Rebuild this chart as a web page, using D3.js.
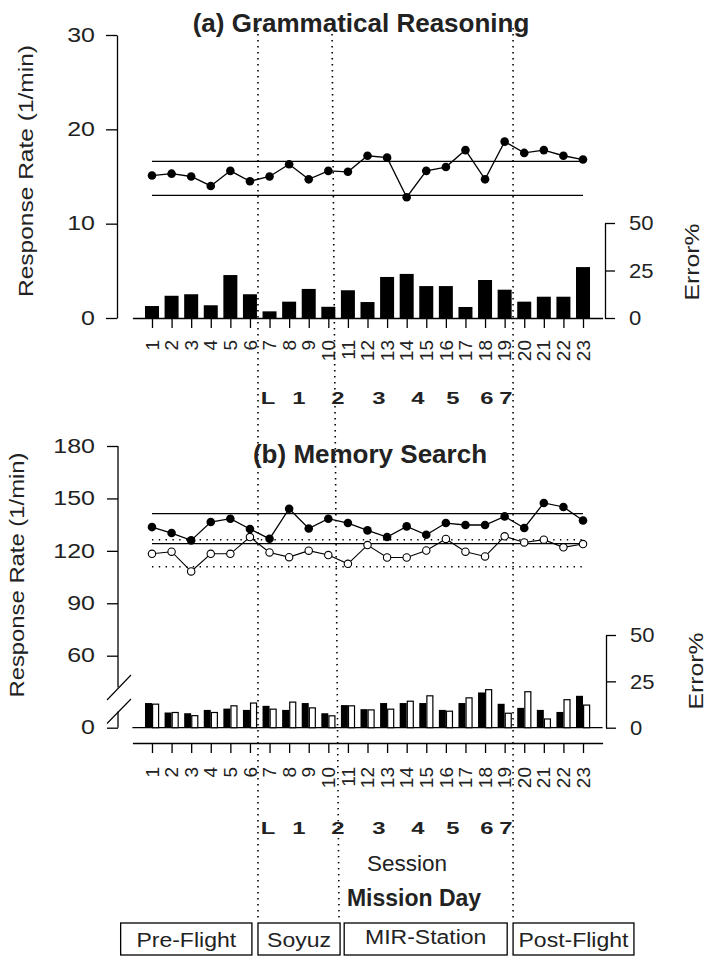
<!DOCTYPE html>
<html><head><meta charset="utf-8">
<script src="https://cdn.jsdelivr.net/npm/d3@7"></script>
<style>body{margin:0;background:#fff}svg{display:block}text{font-family:"Liberation Sans",Arial,sans-serif;fill:#222}</style>
</head><body><svg id="c" width="708" height="956"></svg>
<script>
// ---------- data ----------
const sessions = [1,2,3,4,5,6,7,8,9,10,11,12,13,14,15,16,17,18,19,20,21,22,23];
// (a) Grammatical Reasoning
const grRate  = [15.1,15.3,15.0,14.0,15.6,14.5,15.0,16.3,14.7,15.6,15.5,17.2,17.0,12.8,15.6,16.0,17.8,14.7,18.7,17.5,17.8,17.2,16.8];
const grError = [6.3,11.7,12.5,6.7,22.6,12.5,3.5,8.6,15.3,5.9,14.6,8.4,21.6,23.2,16.8,16.8,5.8,20.0,14.9,8.6,11.2,11.2,26.8];
const grLimits = [16.6, 13.0];
const grRateTicks = [0,10,20,30];
// (b) Memory Search
const msRateFilled = [133.6,130.2,126.0,136.5,138.4,132.5,126.9,144.1,132.8,138.4,135.9,131.7,127.9,134.0,129.2,135.9,134.8,134.8,139.7,133.1,147.4,145.1,137.4];
const msRateOpen   = [118.3,119.5,108.2,118.3,118.3,127.9,119.1,116.4,120.1,117.6,112.6,123.3,116.2,116.2,120.2,126.8,119.5,116.8,128.3,124.8,126.4,122.0,123.9];
const msErrFilled  = [13.3,8.2,7.8,9.6,10.3,9.6,11.8,9.6,13.3,7.8,12.2,10.0,13.3,13.3,13.3,9.6,13.3,19.0,12.9,10.7,9.6,8.5,17.2];
const msErrOpen    = [12.7,8.2,6.5,8.2,11.8,13.3,10.0,13.8,10.7,6.4,11.8,9.6,10.0,14.3,17.2,8.9,16.1,20.5,7.8,19.4,4.7,15.1,12.2];
const msLimitsSolid  = [141.3, 124.1];
const msLimitsDotted = [126.4, 110.9];
const msRateTicks = [60,90,120,150,180];
const errorTicks = [0,25,50];
// mission-day labels (position in session units)
const dayLabels = ["L","1","2","3","4","5","6","7"];
const dayPos    = [6.92,8.5,10.49,12.58,14.57,16.36,18.1,19.06];
// phase dividers (session units, top / bottom end)
const dividerTop    = [6.41,10.19,19.43];
const dividerBottom = [6.41,10.55,19.43];
// phase boxes
const phases    = ["Pre-Flight","Soyuz","MIR-Station","Post-Flight"];
const phaseFrom = [-0.6,6.41,10.81,19.43];
const phaseTo   = [6.1,10.6,19.13,25.6];

// ---------- drawing ----------
const svg = d3.select("#c");
const FONT = '"Liberation Sans",Arial,sans-serif';
function stretch(sel,k){sel.each(function(){const l=this.getComputedTextLength();d3.select(this).attr("textLength",l*k).attr("lengthAdjust","spacingAndGlyphs");});}
const SW = 1.3;

const x = d3.scaleLinear().domain([0,24]).range([132.4,602.6]);

// dividers (drawn first)
svg.append("g").selectAll("line").data(dividerTop).join("line")
  .attr("x1",d=>x(d)).attr("x2",(d,i)=>x(dividerBottom[i]))
  .attr("y1",28).attr("y2",922)
  .attr("stroke","#000").attr("stroke-width",1.6).attr("stroke-dasharray","1.4,4.6");

function styleAxis(g,fs,k){
  g.selectAll("path,line").attr("stroke","#000").attr("stroke-width",SW);
  g.selectAll("text").attr("font-size",fs).attr("font-family",FONT).attr("fill","#222").call(stretch,k);
}

// ===== Panel (a) =====
const yA = d3.scaleLinear().domain([0,30]).range([318,35]);
const eA = d3.scaleLinear().domain([0,50]).range([318,223]);

svg.append("g").attr("transform","translate(117,0)")
  .call(d3.axisLeft(yA).tickValues(grRateTicks).tickSize(11).tickSizeOuter(0).tickPadding(11))
  .call(g=>styleAxis(g,19.5,1.28));
svg.append("g").attr("transform","translate(605,0)")
  .call(d3.axisRight(eA).tickValues(errorTicks).tickSize(10).tickSizeOuter(0).tickPadding(14))
  .call(g=>styleAxis(g,21,1.05));
svg.append("g").attr("transform","translate(0,318)")
  .call(d3.axisBottom(x).tickValues(sessions).tickSize(10).tickSizeOuter(0).tickFormat(""))
  .call(g=>styleAxis(g,19,1));

// bars
svg.append("g").selectAll("rect").data(grError).join("rect")
  .attr("x",(d,i)=>x(sessions[i])-7).attr("width",14)
  .attr("y",d=>eA(d)).attr("height",d=>eA(0)-eA(d)).attr("fill","#000");
// limits
svg.append("g").selectAll("line").data(grLimits).join("line")
  .attr("x1",x(sessions[0])).attr("x2",x(sessions[sessions.length-1]))
  .attr("y1",d=>yA(d)).attr("y2",d=>yA(d)).attr("stroke","#000").attr("stroke-width",SW);
// line + points
svg.append("path").datum(grRate)
  .attr("d",d3.line().x((d,i)=>x(sessions[i])).y(d=>yA(d)))
  .attr("fill","none").attr("stroke","#000").attr("stroke-width",SW);
svg.append("g").selectAll("circle").data(grRate).join("circle")
  .attr("cx",(d,i)=>x(sessions[i])).attr("cy",d=>yA(d)).attr("r",4.3).attr("fill","#000");

// ===== Panel (b) =====
const yB = d3.scaleLinear().domain([60,180]).range([655.7,446]);
const eB = d3.scaleLinear().domain([0,50]).range([727.7,635]);
const breakTop = 687.5, breakBottom = 711.5;

svg.append("g").attr("transform","translate(118,0)")
  .call(d3.axisLeft(yB).tickValues(msRateTicks).tickSize(11).tickSizeOuter(0).tickPadding(12))
  .call(g=>g.select(".domain").remove())
  .call(g=>styleAxis(g,19.5,1.28));
svg.append("g").attr("transform","translate(118,0)")
  .call(d3.axisLeft(eB).tickValues([0]).tickSize(11).tickSizeOuter(0).tickPadding(12))
  .call(g=>g.select(".domain").remove())
  .call(g=>styleAxis(g,19.5,1.28));
// broken axis line
svg.append("line").attr("x1",118).attr("x2",118).attr("y1",yB(180)).attr("y2",breakTop).attr("stroke","#000").attr("stroke-width",SW);
svg.append("line").attr("x1",118).attr("x2",118).attr("y1",breakBottom).attr("y2",eB(0)).attr("stroke","#000").attr("stroke-width",SW);
svg.append("line").attr("x1",107).attr("x2",131).attr("y1",700).attr("y2",675).attr("stroke","#000").attr("stroke-width",1.1);
svg.append("line").attr("x1",107).attr("x2",131).attr("y1",723.5).attr("y2",699).attr("stroke","#000").attr("stroke-width",1.1);

svg.append("g").attr("transform","translate(606,0)")
  .call(d3.axisRight(eB).tickValues(errorTicks).tickSize(10).tickSizeOuter(0).tickPadding(14))
  .call(g=>styleAxis(g,21,1.05));
svg.append("g").attr("transform","translate(0,743)")
  .call(d3.axisBottom(x).tickValues(sessions).tickSize(10).tickSizeOuter(0).tickFormat(""))
  .call(g=>styleAxis(g,19,1));
// bar baseline
svg.append("line").attr("x1",x(0)).attr("x2",x(24)).attr("y1",eB(0)).attr("y2",eB(0)).attr("stroke","#000").attr("stroke-width",SW);

svg.append("g").selectAll("rect").data(msErrFilled).join("rect")
  .attr("x",(d,i)=>x(sessions[i])-7).attr("width",7)
  .attr("y",d=>eB(d)).attr("height",d=>eB(0)-eB(d)).attr("fill","#000");
svg.append("g").selectAll("rect").data(msErrOpen).join("rect")
  .attr("x",(d,i)=>x(sessions[i])+0.6).attr("width",6)
  .attr("y",d=>eB(d)).attr("height",d=>eB(0)-eB(d)).attr("fill","#fff").attr("stroke","#000").attr("stroke-width",1.2);

svg.append("g").selectAll("line").data(msLimitsSolid).join("line")
  .attr("x1",x(sessions[0])).attr("x2",x(sessions[sessions.length-1]))
  .attr("y1",d=>yB(d)).attr("y2",d=>yB(d)).attr("stroke","#000").attr("stroke-width",SW);
svg.append("g").selectAll("line").data(msLimitsDotted).join("line")
  .attr("x1",x(sessions[0])).attr("x2",x(sessions[sessions.length-1]))
  .attr("y1",d=>yB(d)).attr("y2",d=>yB(d)).attr("stroke","#000").attr("stroke-width",1.5).attr("stroke-dasharray","1.4,5.4");

const lineB = d3.line().x((d,i)=>x(sessions[i])).y(d=>yB(d));
svg.append("path").datum(msRateOpen).attr("d",lineB).attr("fill","none").attr("stroke","#000").attr("stroke-width",1.1);
svg.append("path").datum(msRateFilled).attr("d",lineB).attr("fill","none").attr("stroke","#000").attr("stroke-width",SW);
svg.append("g").selectAll("circle").data(msRateOpen).join("circle")
  .attr("cx",(d,i)=>x(sessions[i])).attr("cy",d=>yB(d)).attr("r",3.7).attr("fill","#fff").attr("stroke","#000").attr("stroke-width",1.1);
svg.append("g").selectAll("circle").data(msRateFilled).join("circle")
  .attr("cx",(d,i)=>x(sessions[i])).attr("cy",d=>yB(d)).attr("r",4.3).attr("fill","#000");

// ===== session labels (rotated) =====
[340,767].forEach(y0=>{
  svg.append("g").selectAll("text").data(sessions).join("text")
    .attr("transform",d=>`translate(${x(d)},${y0}) rotate(-90)`)
    .attr("text-anchor","end").attr("dy","0.35em").attr("font-size",19)
    .text(d=>d).call(stretch,1.0);
});
// mission day labels
[404,834].forEach(y0=>{
  svg.append("g").selectAll("text").data(dayLabels).join("text")
    .attr("x",(d,i)=>x(dayPos[i])).attr("y",y0).attr("text-anchor","middle")
    .attr("font-size",17).attr("font-weight","bold").text(d=>d).call(stretch,1.4);
});

// titles
svg.append("text").attr("x",361).attr("y",32).attr("text-anchor","middle").attr("font-size",26).attr("font-weight","bold").text("(a) Grammatical Reasoning");
svg.append("text").attr("x",370).attr("y",463).attr("text-anchor","middle").attr("font-size",26).attr("font-weight","bold").text("(b) Memory Search");

// axis titles
function vtext(xb,yc,txt,len){
  svg.append("text").attr("transform",`translate(${xb},${yc}) rotate(-90)`).attr("text-anchor","middle")
    .attr("font-size",21).attr("textLength",len).attr("lengthAdjust","spacingAndGlyphs").text(txt);
}
vtext(33,171,"Response Rate (1/min)",252);
vtext(24,575,"Response Rate (1/min)",245);
vtext(699,262,"Error%",77);
vtext(703,671,"Error%",77);

svg.append("text").attr("x",407).attr("y",871).attr("text-anchor","middle").attr("font-size",22.5).text("Session");
svg.append("text").attr("x",414).attr("y",906).attr("text-anchor","middle").attr("font-size",23).attr("font-weight","bold").text("Mission Day");

// phase boxes
const pb = svg.append("g");
phases.forEach((p,i)=>{
  const x0 = x(phaseFrom[i]), x1 = x(phaseTo[i]);
  pb.append("rect").attr("x",x0).attr("y",923).attr("width",x1-x0).attr("height",32)
    .attr("fill","none").attr("stroke","#000").attr("stroke-width",SW);
  pb.append("text").attr("x",(x0+x1)/2).attr("y",i===2?944:947).attr("text-anchor","middle")
    .attr("font-size",20).text(p).call(stretch,1.15);
});
</script></body></html>
